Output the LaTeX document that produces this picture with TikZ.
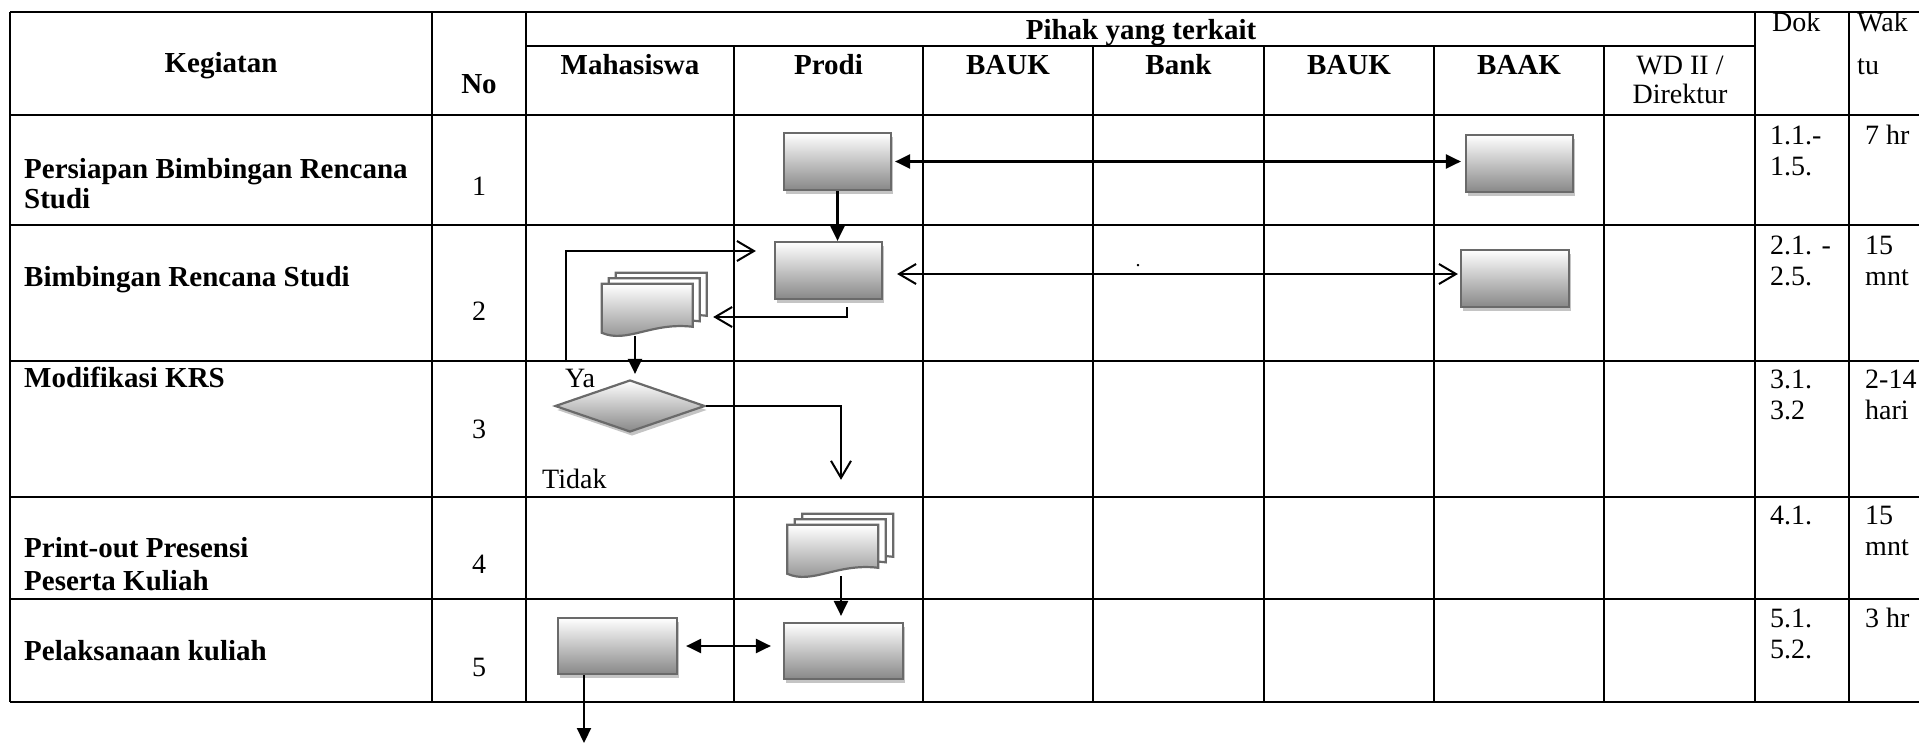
\documentclass[tikz,border=0pt]{standalone}
\usepackage{fontspec}
\setmainfont{Liberation Serif}
\usetikzlibrary{arrows.meta,shapes.geometric,shadows,calc}

\definecolor{boxline}{HTML}{6A6A6A}
\definecolor{boxbottom}{HTML}{888888}
\definecolor{boxshadow}{HTML}{C4C4C4}

\tikzset{
  FTip/.tip={Triangle[length=15pt,width=14pt]},
  OTip/.tip={Straight Barb[length=17pt,width=20pt,line width=2pt]},
  grid/.style={line width=2.9pt},
  conn/.style={line width=2.2pt},
  hd/.style={font=\fontsize{29}{33}\selectfont\bfseries, inner sep=0pt},
  txt/.style={font=\fontsize{28}{32}\selectfont, inner sep=0pt},
  act/.style={hd, anchor=base west},
  cellL/.style={txt, anchor=base west},
  cellC/.style={txt, anchor=base},
  soft/.style={drop shadow={shadow xshift=2pt, shadow yshift=-4pt, fill=boxshadow, opacity=1}},
  procbox/.style={draw=boxline, line width=2.2pt, top color=white, bottom color=boxbottom, soft, inner sep=0pt},
  decision/.style={diamond, draw=boxline, line width=2.2pt, top color=white, bottom color=boxbottom, soft, inner sep=0pt, minimum width=150pt, minimum height=52pt},
  docframe/.style={inner sep=0pt, minimum width=91pt, minimum height=47pt},
  backsheet/.style={draw=boxline, line width=2.2pt, fill=white, soft},
  frontsheet/.style={draw=boxline, line width=2.2pt, top color=white, bottom color=boxbottom, soft},
  % one sheet of a multi-page document: flat top, wavy bottom edge
  docsheet/.pic={
    \path[pic actions] (0,0) -- (91,0) -- (91,43) .. controls (50,38) and (25,60) .. (0,49) -- cycle;
  },
}

\begin{document}
\begin{tikzpicture}[x=1pt,y=-1pt]
\useasboundingbox (0,0) rectangle (1919,744);

% ---------- table grid ----------
\draw[grid] (10,12) -- (1919,12);
\foreach \yy in {115,225,361,497,599,702}
  \draw[grid] (10,\yy) -- (1919,\yy);
\draw[grid] (526,46) -- (1755,46);
\foreach \xx in {10,432,526,1755,1849}
  \draw[grid] (\xx,12) -- (\xx,702);
\foreach \xx in {734,923,1093,1264,1434,1604}
  \draw[grid] (\xx,46) -- (\xx,702);

% ---------- header ----------
\node[hd, anchor=base] (hKeg) at (221,72) {Kegiatan};
\node[hd, anchor=base] (hNo) at (479,93) {No};
\node[hd, anchor=base] (hPihak) at (1141,39) {Pihak yang terkait};
\node[hd, anchor=base] (hMhs) at (630,74) {Mahasiswa};
\node[hd, anchor=base] (hProdi) at (828.5,74) {Prodi};
\node[hd, anchor=base] (hBaukA) at (1008,74) {BAUK};
\node[hd, anchor=base] (hBank) at (1178.5,74) {Bank};
\node[hd, anchor=base] (hBaukB) at (1349,74) {BAUK};
\node[hd, anchor=base] (hBaak) at (1519,74) {BAAK};
\node[cellC] (hWd) at (1680,74) {WD II /};
\node[cellC] (hDir) at (1680,103) {Direktur};
\node[cellL] (hDok) at (1772,31) {Dok};
\node[cellL] (hWak) at (1857,31) {Wak};
\node[cellL] (hTu) at (1857,74) {tu};

% ---------- activity column ----------
\node[act] (a1a) at (24,178) {Persiapan Bimbingan Rencana};
\node[act] (a1b) at (24,208) {Studi};
\node[act] (a2) at (24,286) {Bimbingan Rencana Studi};
\node[act] (a3) at (24,387) {Modifikasi KRS};
\node[act] (a4a) at (24,557) {Print-out Presensi};
\node[act] (a4b) at (24,590) {Peserta Kuliah};
\node[act] (a5) at (24,660) {Pelaksanaan kuliah};

\node[cellC] (n1) at (479,195) {1};
\node[cellC] (n2) at (479,320) {2};
\node[cellC] (n3) at (479,438) {3};
\node[cellC] (n4) at (479,573) {4};
\node[cellC] (n5) at (479,676) {5};

% ---------- document and time columns ----------
\node[cellL] (k1a) at (1770,144) {1.1.-};
\node[cellL] (k1b) at (1770,175) {1.5.};
\node[cellL] (k2a) at (1770,254) {2.1. -};
\node[cellL] (k2b) at (1770,285) {2.5.};
\node[cellL] (k3a) at (1770,388) {3.1.};
\node[cellL] (k3b) at (1770,419) {3.2};
\node[cellL] (k4a) at (1770,524) {4.1.};
\node[cellL] (k5a) at (1770,627) {5.1.};
\node[cellL] (k5b) at (1770,658) {5.2.};

\node[cellL] (w1) at (1865,144) {7 hr};
\node[cellL] (w2a) at (1865,254) {15};
\node[cellL] (w2b) at (1865,285) {mnt};
\node[cellL] (w3a) at (1865,388) {2-14};
\node[cellL] (w3b) at (1865,419) {hari};
\node[cellL] (w4a) at (1865,524) {15};
\node[cellL] (w4b) at (1865,555) {mnt};
\node[cellL] (w5) at (1865,627) {3 hr};

% ---------- flow symbols ----------
\node[procbox, minimum width=107pt, minimum height=57pt] (p1) at (837.5,161.5) {};
\node[procbox, minimum width=107pt, minimum height=57pt] (b1) at (1519.5,163.5) {};
\node[procbox, minimum width=107pt, minimum height=57pt] (p2) at (828.5,270.5) {};
\node[procbox, minimum width=108pt, minimum height=57pt] (b2) at (1515,278.5) {};
\node[procbox, minimum width=119pt, minimum height=56pt] (m5) at (617.5,646) {};
\node[procbox, minimum width=119pt, minimum height=56pt] (p5) at (843.5,651) {};
\node[decision] (dia) at (630,406) {};

% multi-page documents (three stacked sheets each)
\node[docframe] (d1) at (647.5,307.5) {};
\pic[backsheet] at ($(d1.north west)+(14,-11)$) {docsheet};
\pic[backsheet] at ($(d1.north west)+(7,-5.5)$) {docsheet};
\pic[frontsheet] at (d1.north west) {docsheet};

\node[docframe] (d2) at (833,548.5) {};
\pic[backsheet] at ($(d2.north west)+(15,-11)$) {docsheet};
\pic[backsheet] at ($(d2.north west)+(7.5,-5.5)$) {docsheet};
\pic[frontsheet] at (d2.north west) {docsheet};

% ---------- labels ----------
\node[cellL] (ya) at (565,387) {Ya};
\node[cellL] (tidak) at (542,488) {Tidak};
\node[inner sep=0pt, font=\fontsize{20}{20}\selectfont, anchor=base] (dot) at (1138,266) {.};

% ---------- connectors ----------
\draw[conn, FTip-FTip] ($(p1.east)+(3,0)$) -- ($(p1.east -| b1.west)+(-4,0)$);
\draw[conn, -FTip] (p1.south) -- (p1.south |- p2.north);
\draw[conn, OTip-OTip] ($(p2.east)+(14,3.5)$) -- ($(p2.east -| b2.west)+(-2,3.5)$);

\coordinate (yaStart) at (566,362);
\draw[conn, -OTip] (yaStart) |- ($(p2.west)+(-18,-19.5)$);
\draw[conn, -OTip] ($(p2.south)+(18.5,7)$) |- ($(d1.east)+(20,9.5)$);
\draw[conn, -FTip] ($(d1.south)+(-12.5,5)$) -- ($(dia.north)+(5,-5)$);
\draw[conn, -OTip] (dia.east) -| ($(d2.north)+(8,-45)$);
\draw[conn, -FTip] ($(d2.south)+(8,4)$) -- ($(p5.north)+(-2.5,-6)$);
\draw[conn, FTip-FTip] ($(m5.east)+(8,0)$) -- ($(m5.east -| p5.west)+(-12,0)$);

\coordinate (outEnd) at (584,743);
\draw[conn, -FTip] (m5.south -| outEnd) -- (outEnd);
\end{tikzpicture}
\end{document}
